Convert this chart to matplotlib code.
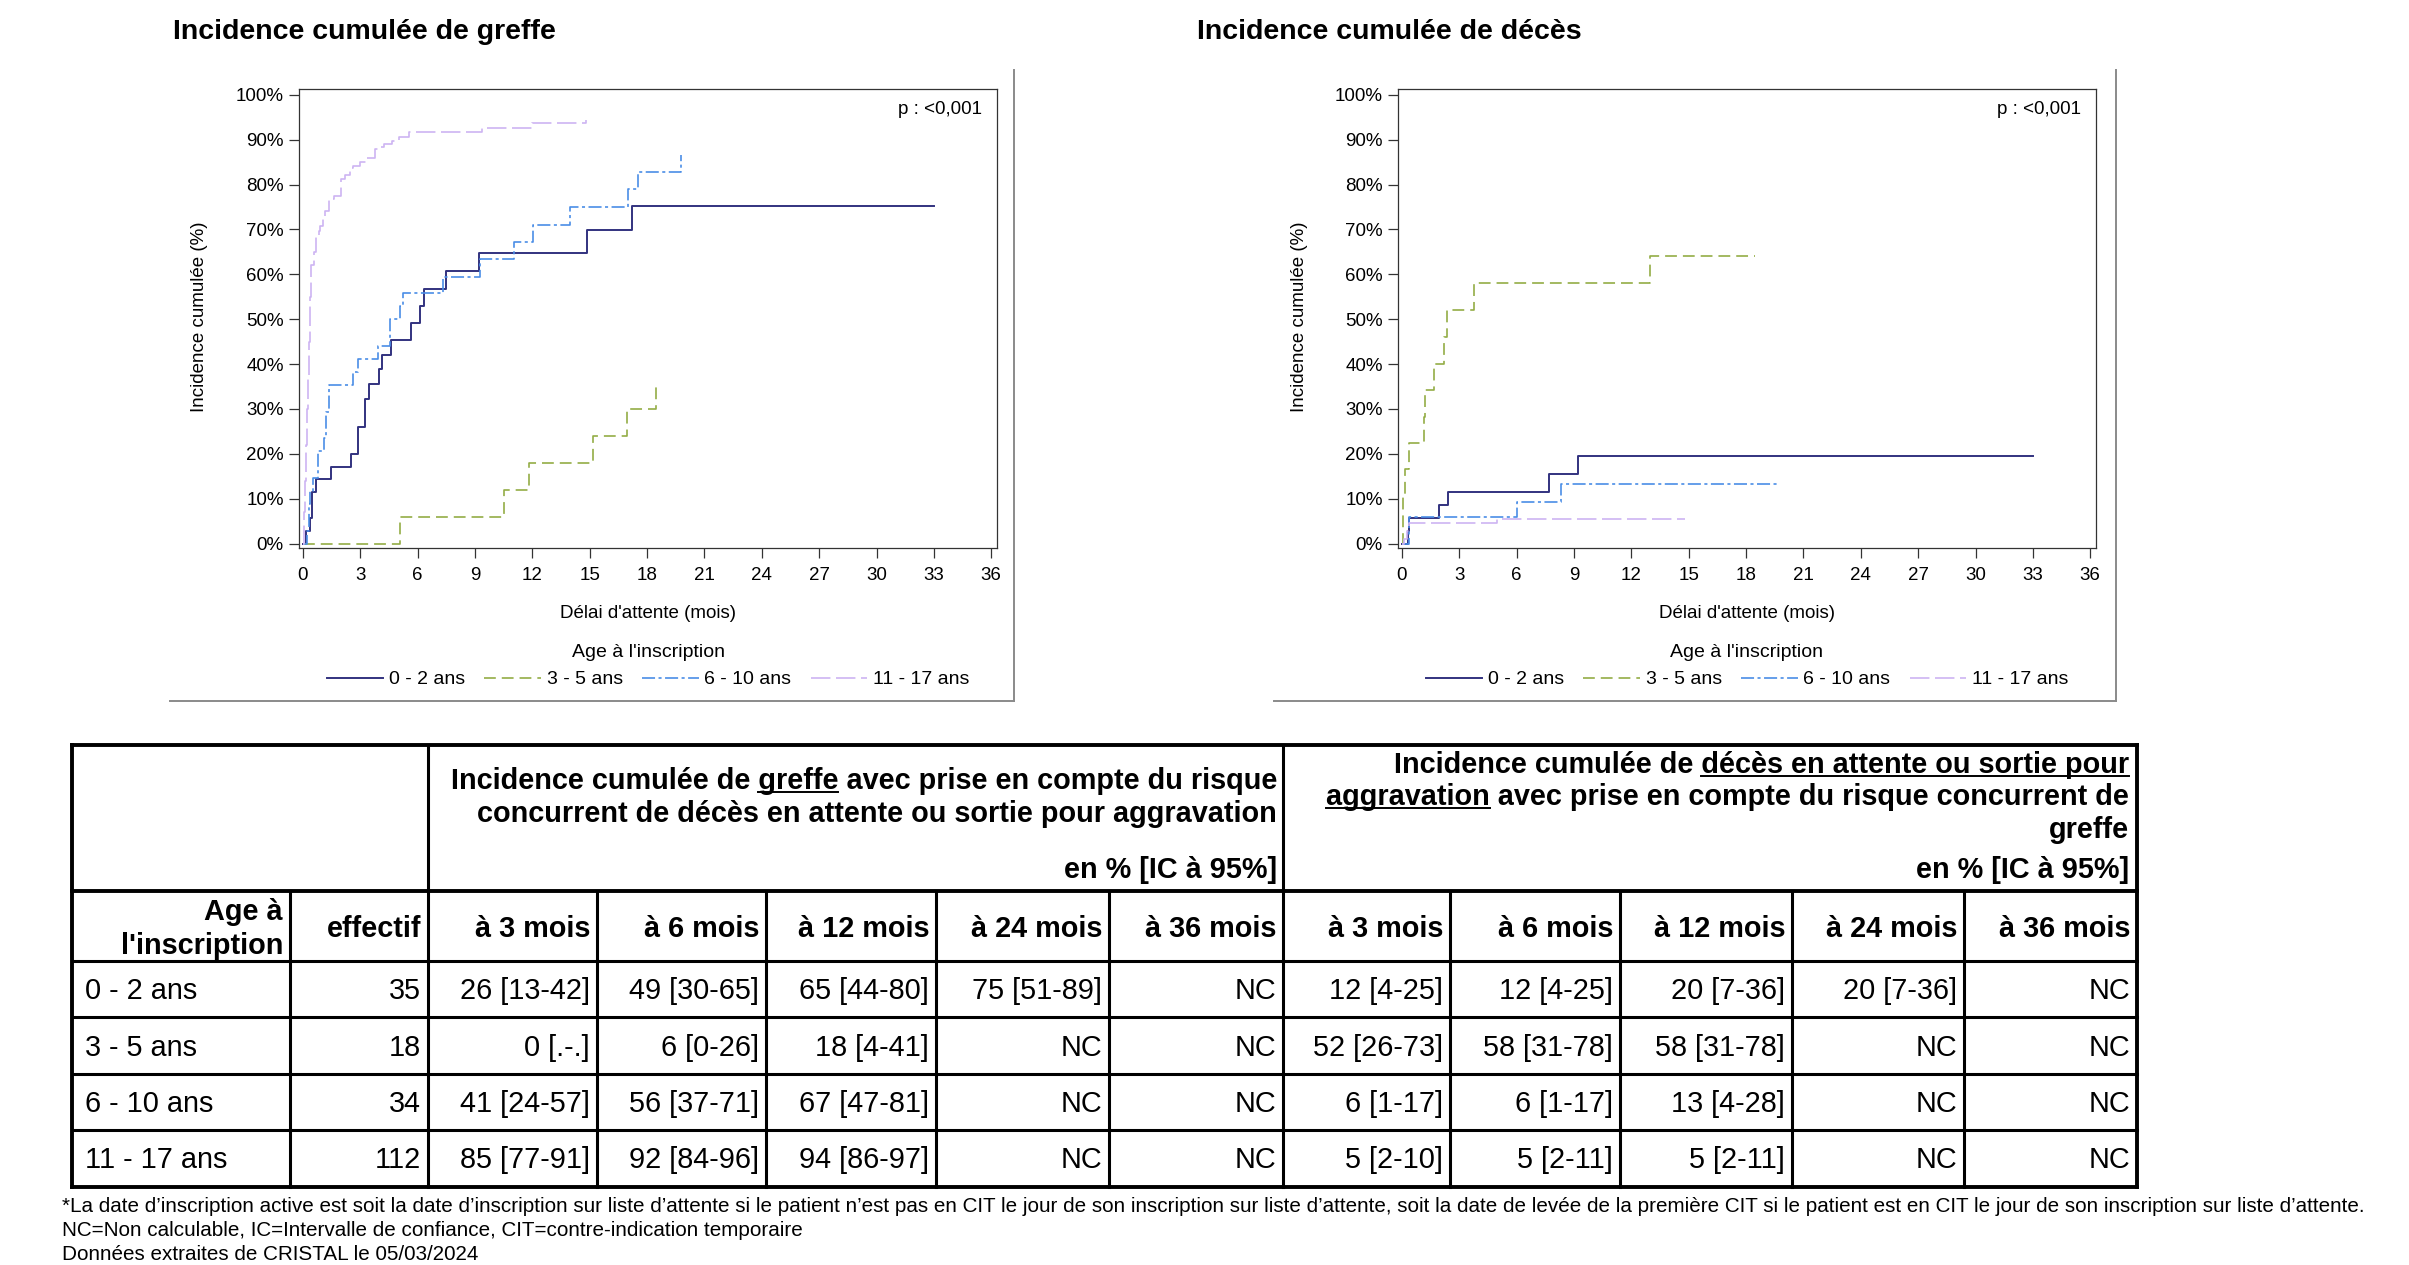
import matplotlib
matplotlib.use("Agg")
import matplotlib.pyplot as plt
from matplotlib.lines import Line2D
from matplotlib.ticker import FuncFormatter

plt.rcParams['font.family'] = ['Liberation Sans', 'DejaVu Sans']
plt.rcParams['lines.scale_dashes'] = False

W, H = 2409, 1265

# ---- données des courbes (mois, %) ----
groupes = ["0 - 2 ans", "3 - 5 ans", "6 - 10 ans", "11 - 17 ans"]

greffe_t_02 = [0, 0.16, 0.38, 0.47, 0.70, 1.49, 2.52, 2.88, 3.23, 3.48, 4.0, 4.14, 4.63, 5.68, 6.12, 6.33, 7.5, 9.21, 14.84, 17.19, 33.0]
greffe_y_02 = [0, 2.9, 5.7, 11.4, 14.3, 17.1, 20.0, 26.0, 32.3, 35.6, 38.9, 42.1, 45.4, 49.1, 53.0, 56.8, 60.7, 64.7, 69.9, 75.3, 75.3]
greffe_t_35 = [0, 5.1, 10.5, 11.84, 15.19, 16.94, 18.48]
greffe_y_35 = [0, 6.0, 12.0, 17.9, 24.0, 30.0, 36.1]
greffe_t_610 = [0, 0.2, 0.3, 0.4, 0.55, 0.8, 1.1, 1.2, 1.35, 2.62, 2.87, 3.92, 4.58, 5.07, 5.24, 7.33, 9.25, 11.05, 12.05, 13.95, 17.0, 17.55, 19.8]
greffe_y_610 = [0, 2.9, 8.8, 11.8, 14.7, 20.6, 23.5, 29.4, 35.3, 38.2, 41.2, 44.1, 50.0, 52.9, 55.9, 59.3, 63.3, 67.1, 71.0, 75.1, 79.0, 82.9, 86.5]
greffe_t_1117 = [0, 0.05, 0.1, 0.15, 0.2, 0.25, 0.3, 0.35, 0.45, 0.56, 0.68, 0.82, 0.91, 1.08, 1.17, 1.38, 1.61, 2.01, 2.22, 2.48, 2.62, 3.0, 3.3, 3.79, 4.06, 4.27, 4.67, 5.02, 5.54, 9.39, 11.98, 14.81]
greffe_y_1117 = [0, 7, 14, 22, 30, 37, 45, 55, 62, 65, 68.6, 69.6, 70.8, 73.1, 74.0, 76.8, 77.5, 81.2, 82.2, 83.8, 84.2, 85.1, 86.0, 87.9, 88.4, 89.0, 89.8, 90.7, 91.8, 92.7, 93.8, 94.5]

deces_t_02 = [0, 0.30, 0.40, 1.93, 2.40, 7.67, 9.19, 33.0]
deces_y_02 = [0, 2.9, 5.7, 8.6, 11.5, 15.5, 19.5, 19.5]
deces_t_35 = [0, 0.05, 0.15, 0.40, 1.14, 1.20, 1.66, 2.19, 2.36, 3.80, 12.96, 18.48]
deces_y_35 = [0, 11.1, 16.7, 22.3, 28.2, 34.2, 40.1, 46.1, 52.0, 58.1, 64.1, 64.1]
deces_t_610 = [0, 0.40, 6.04, 8.32, 19.8]
deces_y_610 = [0, 5.9, 9.3, 13.2, 13.2]
deces_t_1117 = [0, 0.09, 0.26, 0.35, 4.96, 14.8]
deces_y_1117 = [0, 0.9, 2.7, 4.5, 5.4, 5.4]

# ---- données du tableau ----
effectifs = ["35", "18", "34", "112"]
delais = ["à 3 mois", "à 6 mois", "à 12 mois", "à 24 mois", "à 36 mois"]
tab_greffe = [
    ["26 [13-42]", "49 [30-65]", "65 [44-80]", "75 [51-89]", "NC"],
    ["0 [.-.]", "6 [0-26]", "18 [4-41]", "NC", "NC"],
    ["41 [24-57]", "56 [37-71]", "67 [47-81]", "NC", "NC"],
    ["85 [77-91]", "92 [84-96]", "94 [86-97]", "NC", "NC"],
]
tab_deces = [
    ["12 [4-25]", "12 [4-25]", "20 [7-36]", "20 [7-36]", "NC"],
    ["52 [26-73]", "58 [31-78]", "58 [31-78]", "NC", "NC"],
    ["6 [1-17]", "6 [1-17]", "13 [4-28]", "NC", "NC"],
    ["5 [2-10]", "5 [2-11]", "5 [2-11]", "NC", "NC"],
]

couleurs = ["#32327f", "#93ad45", "#4a8de6", "#cdb4f2"]
styles = ["-", (0, (8.5, 4.3)), (0, (9.4, 2.5, 2.2, 2.5)), (0, (14, 4))]
largeurs = [1.4, 1.2, 1.2, 1.2]


def fx(x):
    return x / W


def fy(y):
    return 1 - y / H


fig = plt.figure(figsize=(W / 100, H / 100), dpi=100)


def panneau(x0, courbes, titre, x_titre):
    ax = fig.add_axes([fx(x0), fy(548), 698 / W, (548 - 89) / H])
    for (t, y), c, ls, lw in zip(courbes, couleurs, styles, largeurs):
        ax.step(t, y, where="post", color=c, linestyle=ls, lw=lw)
    ax.set_xlim(-0.2, 36.3)
    ax.set_ylim(-1, 101.3)
    ax.set_xticks(range(0, 37, 3))
    ax.set_yticks(range(0, 101, 10))
    ax.yaxis.set_major_formatter(FuncFormatter(lambda v, p: f"{int(v)}%"))
    ax.tick_params(direction="out", length=7, width=0.9, color="#333333",
                   labelsize=13.5, pad=4)
    ax.tick_params(axis="x", pad=7)
    for s in ax.spines.values():
        s.set_color("#333333")
        s.set_linewidth(0.9)
    ax.text(0.9785, 0.956, "p : <0,001", transform=ax.transAxes, ha="right",
            va="center", fontsize=13.5)
    fig.text(fx(x0 - 99), fy(317), "Incidence cumulée (%)", rotation=90,
             ha="center", va="center", fontsize=13.5)
    fig.text(fx(x0 + 349), fy(613), "Délai d'attente (mois)", ha="center",
             va="center", fontsize=13.5)
    fig.text(fx(x_titre), fy(32), titre, ha="left", va="center",
             fontsize=20.5, fontweight="bold")
    poignees = [Line2D([], [], color=c, linestyle=ls, lw=lw)
                for c, ls, lw in zip(couleurs, styles, largeurs)]
    ax.legend(poignees, groupes, title="Age à l'inscription", ncol=4,
              loc="upper center", bbox_to_anchor=(fx(x0 + 349), fy(644)),
              bbox_transform=fig.transFigure, frameon=False, fontsize=14,
              title_fontsize=14, handlelength=2.9, handletextpad=0.3,
              columnspacing=1.0, borderpad=0, borderaxespad=0)
    return ax


panneau(299, [(greffe_t_02, greffe_y_02), (greffe_t_35, greffe_y_35),
              (greffe_t_610, greffe_y_610), (greffe_t_1117, greffe_y_1117)],
        "Incidence cumulée de greffe", 173)
panneau(1398, [(deces_t_02, deces_y_02), (deces_t_35, deces_y_35),
               (deces_t_610, deces_y_610), (deces_t_1117, deces_y_1117)],
        "Incidence cumulée de décès", 1197)

# cadres gris autour des graphiques
for xr, xl in [(1014, 170), (2116, 1274)]:
    fig.add_artist(Line2D([fx(xr), fx(xr)], [fy(70), fy(701)], color="#8a8a8a", lw=1.4))
    fig.add_artist(Line2D([fx(xl), fx(xr)], [fy(701), fy(701)], color="#8a8a8a", lw=1.4))

# ---- tableau ----
cols = [72, 290, 428, 597, 766, 936, 1109, 1283, 1450, 1620, 1792, 1964, 2137]
rows = [745, 891, 961, 1017, 1074, 1130, 1187]


def trait(x0, y0, x1, y1, lw=2.2):
    fig.add_artist(Line2D([fx(x0), fx(x1)], [fy(y0), fy(y1)], color="black",
                          lw=lw, solid_capstyle="projecting"))


for i, y in enumerate(rows):
    trait(cols[0], y, cols[-1], y, 2.8 if i in (0, 1, len(rows) - 1) else 2.2)
for j, x in enumerate(cols):
    if j in (0, len(cols) - 1):
        trait(x, rows[0], x, rows[-1], 2.8)
    elif x in (428, 1283):
        trait(x, rows[0], x, rows[-1])
    else:
        trait(x, rows[1], x, rows[-1])

fs = 20.8
renderer = fig.canvas.get_renderer()


def largeur(s, **kw):
    t = fig.text(0, 0, s, **kw)
    w = t.get_window_extent(renderer).width
    t.remove()
    return w


def souligner(x0, x1, t):
    bb = t.get_window_extent(renderer)
    y = bb.y0 + 3
    fig.add_artist(Line2D([x0 / W, x1 / W], [y / H, y / H], color="black", lw=1.4))


gras = dict(fontsize=fs, fontweight="bold")
esp = largeur("a a", **gras) - largeur("aa", **gras)

# en-tête greffe
l1 = "Incidence cumulée de greffe avec prise en compte du risque"
t1 = fig.text(fx(1277), fy(781), l1, ha="right", va="center", **gras)
fig.text(fx(1277), fy(814), "concurrent de décès en attente ou sortie pour aggravation",
         ha="right", va="center", **gras)
fig.text(fx(1277), fy(870), "en % [IC à 95%]", ha="right", va="center", **gras)
bb = t1.get_window_extent(renderer)
xa = bb.x0 + largeur("Incidence cumulée de", **gras) + esp
souligner(xa, xa + largeur("greffe", **gras), t1)

# en-tête décès
r1 = fig.text(fx(2129), fy(765), "Incidence cumulée de décès en attente ou sortie pour",
              ha="right", va="center", **gras)
r2 = fig.text(fx(2129), fy(797), "aggravation avec prise en compte du risque concurrent de",
              ha="right", va="center", **gras)
fig.text(fx(2129), fy(830), "greffe", ha="right", va="center", **gras)
fig.text(fx(2129), fy(870), "en % [IC à 95%]", ha="right", va="center", **gras)
bb = r1.get_window_extent(renderer)
souligner(bb.x1 - largeur("décès en attente ou sortie pour", **gras), bb.x1, r1)
bb = r2.get_window_extent(renderer)
souligner(bb.x0, bb.x0 + largeur("aggravation", **gras), r2)

# ligne des délais
fig.text(fx(cols[1] - 7), fy(912), "Age à", ha="right", va="center", **gras)
fig.text(fx(cols[1] - 7), fy(946), "l'inscription", ha="right", va="center", **gras)
fig.text(fx(cols[2] - 7), fy(929), "effectif", ha="right", va="center", **gras)
for k in range(10):
    fig.text(fx(cols[k + 3] - 7), fy(929), delais[k % 5], ha="right", va="center", **gras)

# lignes de données
for i in range(4):
    yc = (rows[i + 2] + rows[i + 3]) / 2 + 2
    fig.text(fx(85), fy(yc), groupes[i], ha="left", va="center", fontsize=fs)
    fig.text(fx(cols[2] - 7), fy(yc), effectifs[i], ha="right", va="center", fontsize=fs)
    valeurs = tab_greffe[i] + tab_deces[i]
    for k, v in enumerate(valeurs):
        fig.text(fx(cols[k + 3] - 7), fy(yc), v, ha="right", va="center", fontsize=fs)

# notes
notes = [
    "*La date d’inscription active est soit la date d’inscription sur liste d’attente si le patient n’est pas en CIT le jour de son inscription sur liste d’attente, soit la date de levée de la première CIT si le patient est en CIT le jour de son inscription sur liste d’attente.",
    "NC=Non calculable, IC=Intervalle de confiance, CIT=contre-indication temporaire",
    "Données extraites de CRISTAL le 05/03/2024",
]
for y, n in zip([1206, 1231, 1255], notes):
    fig.text(fx(62), fy(y), n, ha="left", va="center", fontsize=14.9)

fig.savefig("out.png", dpi=100)
